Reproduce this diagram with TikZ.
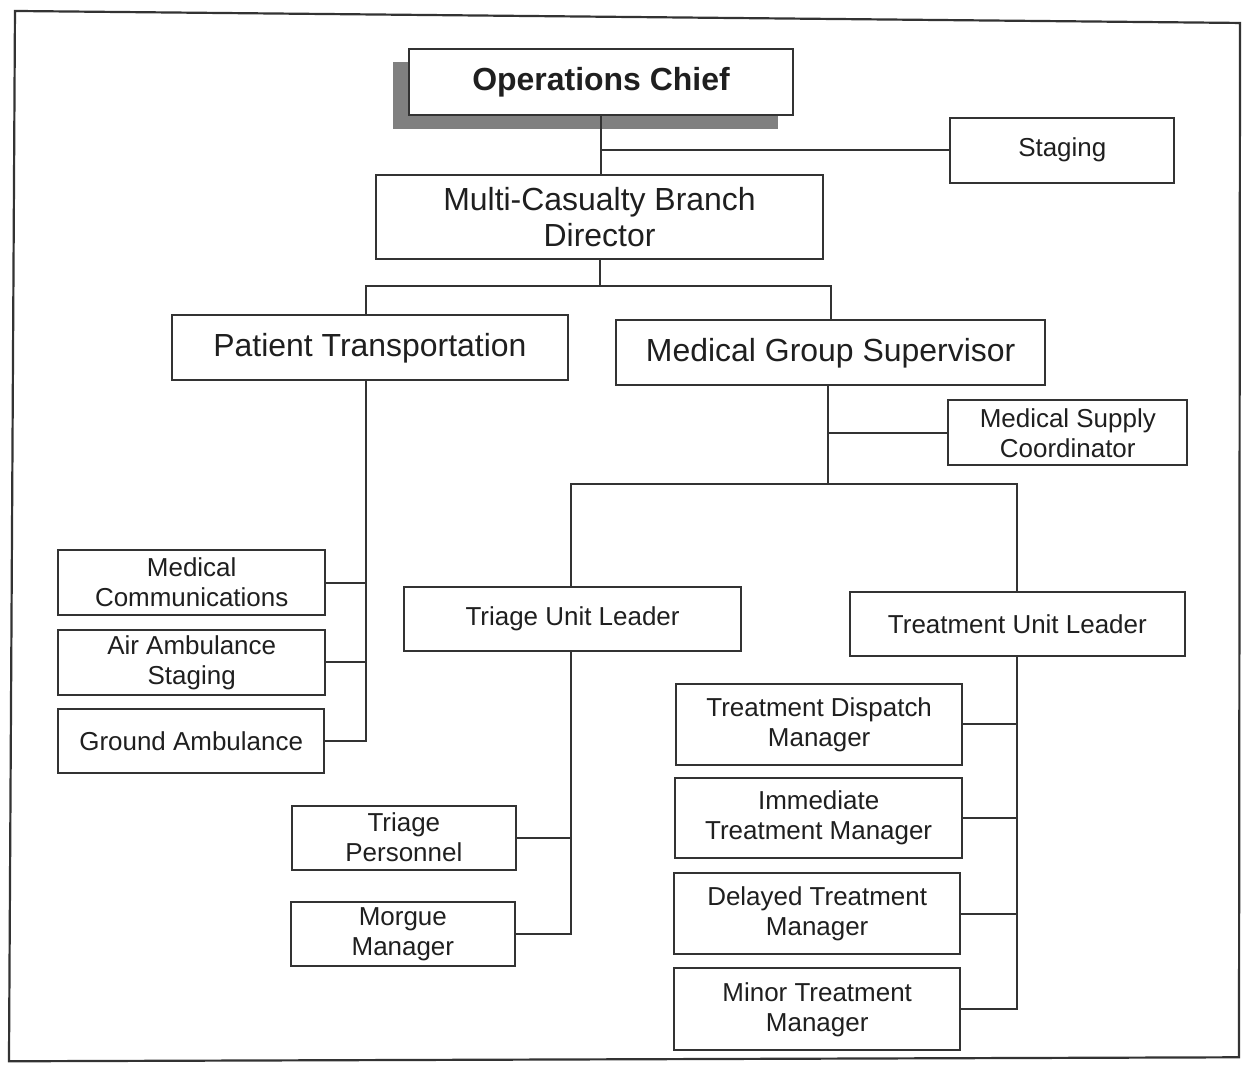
\documentclass[tikz,border=0pt]{standalone}
\usepackage{fontspec}
\setmainfont{Liberation Sans}
\begin{document}
\begin{tikzpicture}[x=0.5pt,y=-0.5pt,
  line width=1pt,
  every path/.style={draw=black!80},
  box/.style={draw=black!80, fill=white, inner sep=0pt, outer sep=0pt,
    align=center, text=black!88, font=\fontsize{13}{15}\selectfont},
  bigbox/.style={box, font=\fontsize{16}{18}\selectfont},
  link/.style={draw=black!80, line width=1pt}]
\useasboundingbox (0,0) rectangle (1242,1066);
\fill[white] (0,0) rectangle (1242,1066);
% outer frame
\draw[line width=1.1pt] (14,10) -- (1241,22) -- (1240,1058) -- (8,1062) -- cycle;

% box helper: name, x1, y1, x2, y2, style, text
\newcommand\obox[7]{%
  \node[#6, minimum width={(#4-#2)*0.5pt}, minimum height={(#5-#3)*0.5pt}]
    (#1) at ({(#2+#4)/2},{(#3+#5)/2}) {#7};}

% drop shadow of the top box
\fill[black!50] (394,62) rectangle (777,127);
\obox{chief}{409}{48}{793}{114}{bigbox, font=\fontsize{16}{18}\selectfont\bfseries}{Operations Chief}
\obox{staging}{951}{117}{1175}{182}{box}{Staging}
\obox{mcbd}{376}{174}{823}{258}{bigbox}{Multi-Casualty Branch\\Director}
\obox{pt}{171}{315}{568}{380}{bigbox}{Patient Transportation}
\obox{mgs}{616}{320}{1046}{385}{bigbox}{Medical Group Supervisor}
\obox{msc}{949}{400}{1188}{465}{box}{Medical Supply\\Coordinator}
\obox{tul}{404}{587}{741}{651}{box}{Triage Unit Leader}
\obox{trul}{850}{592}{1186}{656}{box}{Treatment Unit Leader}
\obox{mcom}{57}{550}{325}{615}{box}{Medical\\Communications}
\obox{aas}{57}{630}{325}{695}{box}{Air Ambulance\\Staging}
\obox{gamb}{57}{709}{324}{773}{box}{Ground Ambulance}
\obox{tp}{291}{806}{516}{870}{box}{Triage\\Personnel}
\obox{mm}{290}{902}{515}{967}{box}{Morgue\\Manager}
\obox{tdm}{676}{684}{963}{765}{box}{Treatment Dispatch\\Manager}
\obox{itm}{675}{778}{963}{858}{box}{Immediate\\Treatment Manager}
\obox{dtm}{674}{873}{961}{955}{box}{Delayed Treatment\\Manager}
\obox{mtm}{674}{969}{961}{1051}{box}{Minor Treatment\\Manager}

% trunk positions
\coordinate (ptx) at (366,0);
\coordinate (mgx) at (828,0);
\coordinate (tux) at (571,0);
\coordinate (trx) at (1018,0);
\coordinate (j1) at (600,285);
\coordinate (j2) at (828,484);

% connectors
\draw[link] (chief.south) -- (chief.south |- mcbd.north);
\draw[link] (staging.west) -- (staging.west -| chief.south);
\draw[link] (mcbd.south -| j1) -- (j1);
\draw[link] (pt.north -| ptx) |- (j1) -| (mgs.north);
\draw[link] (mgs.south -| mgx) -- (j2);
\draw[link] (msc.west) -- (msc.west -| mgx);
\draw[link] (tul.north -| tux) |- (j2) -| (trul.north -| trx);
\draw[link] (pt.south -| ptx) |- (gamb.east);
\draw[link] (mcom.east) -- (mcom.east -| ptx);
\draw[link] (aas.east) -- (aas.east -| ptx);
\draw[link] (tul.south -| tux) |- (mm.east);
\draw[link] (tp.east) -- (tp.east -| tux);
\draw[link] (trul.south -| trx) |- (mtm.east);
\draw[link] (tdm.east) -- (tdm.east -| trx);
\draw[link] (itm.east) -- (itm.east -| trx);
\draw[link] (dtm.east) -- (dtm.east -| trx);
\end{tikzpicture}
\end{document}
